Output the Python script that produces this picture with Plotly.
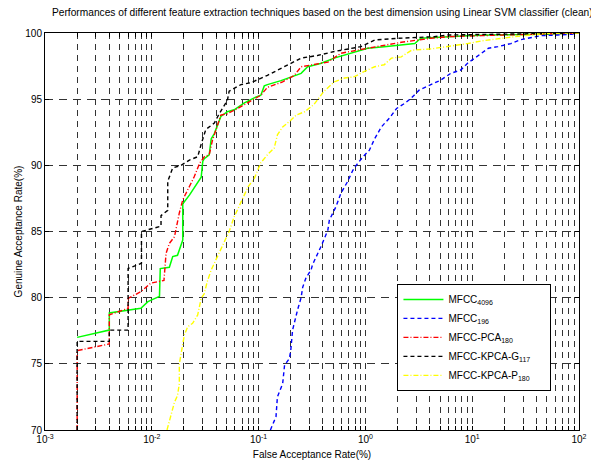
import plotly.graph_objects as go

# ---- data ----
far_mfcc4096 = [0.002, 0.004, 0.004, 0.0079, 0.0092, 0.0118, 0.012, 0.0146, 0.0157, 0.0174, 0.0181, 0.0195, 0.0195,
                0.0225, 0.029, 0.030, 0.031, 0.0345, 0.036, 0.0385, 0.0443, 0.051, 0.059, 0.073, 0.091, 0.105, 0.113,
                0.121, 0.162, 0.216, 0.25, 0.288, 0.38, 0.51, 0.73, 1.05, 1.5, 2.17, 2.9, 3.3, 5.9, 9.0, 15, 44, 100]
gar_mfcc4096 = [77.0, 77.55, 78.85, 79.2, 79.7, 80.1, 82.2, 82.3, 83.1, 83.2, 83.6, 84.35, 87.1,
                87.75, 89.1, 90.3, 90.5, 90.8, 92.0, 92.4, 93.7, 94.05, 94.2, 94.7, 95.1, 95.3, 96.0,
                96.1, 96.4, 96.8, 96.95, 97.45, 97.7, 98.1, 98.47, 98.85, 98.97, 99.1, 99.2, 99.6, 99.72, 99.8, 99.85, 99.9, 100]

far_mfcc196 = [0.129, 0.1455, 0.150, 0.168, 0.175, 0.194, 0.2, 0.208, 0.232, 0.25, 0.259, 0.278, 0.31, 0.32, 0.383,
               0.445, 0.46, 0.53, 0.59, 0.68, 0.76, 0.82, 0.95, 1.09, 1.22, 1.41, 1.69, 1.96, 2.35, 2.7, 3.2, 4.13,
               5.1, 6.3, 7.8, 9.0, 11.3, 14.2, 17.4, 23.0, 28.6, 35.5, 44, 63, 85, 100]
gar_mfcc196 = [70.0, 71.0, 72.5, 73.5, 74.9, 75.4, 76.0, 77.55, 79.1, 80.0, 80.8, 81.5, 82.1, 82.5, 83.85,
               85.1, 85.87, 86.87, 87.9, 88.76, 89.6, 90.0, 90.65, 91.15, 92.0, 92.9, 93.6, 94.3, 94.7, 95.1, 95.7, 96.1,
               96.45, 96.95, 97.2, 97.7, 98.3, 98.85, 98.97, 99.2, 99.5, 99.65, 99.8, 99.85, 99.9, 100]

far_pca180 = [0.002, 0.002, 0.004, 0.004, 0.006, 0.006, 0.0079, 0.0098, 0.013, 0.0136, 0.0146, 0.0163, 0.0181, 0.0195,
              0.0225, 0.025, 0.028, 0.031, 0.0345, 0.037, 0.040, 0.0443, 0.051, 0.064, 0.082, 0.105, 0.121, 0.168,
              0.216, 0.25, 0.445, 0.59, 1.05, 1.6, 2.17, 4.1, 5.9, 12, 33, 100]
gar_pca180 = [70.0, 76.0, 76.5, 78.7, 79.2, 79.95, 80.45, 81.1, 81.3, 83.35, 84.1, 84.6, 86.4, 87.4,
              88.4, 89.15, 90.15, 90.65, 90.8, 91.9, 92.7, 93.8, 93.9, 94.3, 94.8, 95.3, 95.9, 96.3,
              96.8, 97.45, 97.8, 98.47, 98.85, 99.1, 99.3, 99.6, 99.72, 99.8, 99.9, 100]

far_kpcag117 = [0.002, 0.002, 0.004, 0.004, 0.006, 0.006, 0.008, 0.008, 0.0122, 0.0122, 0.0141, 0.0141, 0.0157,
                0.0188, 0.0225, 0.0269, 0.029, 0.032, 0.0385, 0.0428, 0.051, 0.053, 0.0683, 0.085, 0.121, 0.175,
                0.25, 0.356, 0.51, 0.91, 1.22, 2.0, 4.4, 5.9, 12, 100]
gar_kpcag117 = [70.0, 76.7, 76.7, 77.55, 77.55, 82.2, 82.6, 85.0, 85.4, 86.2, 86.6, 88.8, 89.8,
                90.0, 90.4, 90.65, 91.6, 92.7, 93.2, 93.9, 94.9, 95.6, 96.1, 96.25, 96.8, 97.45,
                98.1, 98.3, 98.6, 98.97, 99.47, 99.6, 99.72, 99.85, 99.9, 100]

far_kpcap180 = [0.01388, 0.0157, 0.0163, 0.0174, 0.0181, 0.0181, 0.0188, 0.0202, 0.0217, 0.0241, 0.0269, 0.029,
                0.031, 0.033, 0.036, 0.0395, 0.053, 0.059, 0.070, 0.080, 0.091, 0.105, 0.121, 0.14, 0.15, 0.168,
                0.2, 0.225, 0.27, 0.33, 0.41, 0.51, 0.64, 0.79, 0.98, 1.22, 1.5, 1.75, 2.17, 2.7, 4.13, 5.9,
                9.0, 12.2, 18.6, 24.8, 35.5, 50, 100]
gar_kpcap180 = [70.0, 71.5, 72.1, 72.6, 73.5, 75.0, 75.8, 77.2, 77.8, 78.06, 78.7, 79.95,
                80.3, 81.2, 82.1, 82.8, 85.0, 86.1, 87.4, 88.4, 89.0, 90.2, 90.8, 91.3, 92.3, 92.9,
                93.4, 93.8, 94.05, 94.6, 95.6, 96.3, 96.6, 96.7, 97.1, 97.45, 97.6, 98.1, 98.2, 98.7, 98.8, 98.97,
                99.2, 99.4, 99.6, 99.72, 99.85, 99.98, 100]

series_names = ["MFCC<sub>4096</sub>", "MFCC<sub>196</sub>", "MFCC-PCA<sub>180</sub>",
                "MFCC-KPCA-G<sub>117</sub>", "MFCC-KPCA-P<sub>180</sub>"]

x_tick_exponents = [-3, -2, -1, 0, 1, 2]
y_tick_values = [70, 75, 80, 85, 90, 95, 100]

# ---- figure ----
series = [
    (far_mfcc4096, gar_mfcc4096, "#00ff00", "solid", 1.5),
    (far_mfcc196, gar_mfcc196, "#0000ff", "4px,3px", 1.4),
    (far_pca180, gar_pca180, "#ff0000", "5px,2px,1px,2px", 1.4),
    (far_kpcag117, gar_kpcag117, "#000000", "4px,3px", 1.4),
    (far_kpcap180, gar_kpcap180, "#ffff00", "5px,2px,1px,2px", 1.4),
]

pad = "<span style='color:rgba(0,0,0,0)'>xxx</span>"
fig = go.Figure()
for (xs, ys, color, dash, w), name in zip(series, series_names):
    fig.add_trace(go.Scatter(x=xs, y=ys, mode="lines", name=name + pad,
                             line=dict(color=color, dash=dash, width=w)))

# tick positions at every log-decade step (grid like MATLAB)
tickvals, ticktext = [], []
for e in x_tick_exponents:
    for k in range(1, 10):
        if e == x_tick_exponents[-1] and k > 1:
            break
        tickvals.append(k * 10.0 ** e)
        ticktext.append(f"10<sup>{e}</sup>" if k == 1 else "")

W, H = 591, 464
font = "Liberation Sans, Arial, sans-serif"
fig.update_layout(
    width=W, height=H,
    margin=dict(l=45, r=12, t=33, b=34),
    paper_bgcolor="white", plot_bgcolor="white",
    font=dict(family=font, size=10, color="#000000"),
    title=dict(text="Performances of different feature extraction techniques based on the best dimension using Linear SVM classifier (clean)",
               x=52 / W, xref="container", xanchor="left", y=1.0, yref="container", yanchor="top",
               pad=dict(t=9, b=0, l=0, r=0),
               font=dict(size=10.2, family=font), automargin=False),
    showlegend=True,
    legend=dict(x=0.66, y=0.368, xanchor="left", yanchor="top",
                bgcolor="white", bordercolor="black", borderwidth=1, itemwidth=40,
                font=dict(size=10, family=font), tracegroupgap=0),
)
fig.update_xaxes(type="log", range=[-3, 2], tickvals=tickvals, ticktext=ticktext,
                 showgrid=True, gridcolor="#333333", griddash="6px,5px", gridwidth=1,
                 ticks="inside", ticklen=4, tickcolor="black",
                 showline=True, linecolor="black", linewidth=1, mirror="ticks",
                 zeroline=False, automargin=False,
                 title=dict(text="False Acceptance Rate(%)", standoff=6, font=dict(size=10)))
fig.update_yaxes(range=[70, 100], tickvals=y_tick_values,
                 showgrid=True, gridcolor="#333333", griddash="8px,6px", gridwidth=1,
                 ticks="inside", ticklen=4, tickcolor="black",
                 showline=True, linecolor="black", linewidth=1, mirror="ticks",
                 zeroline=False, automargin=False,
                 title=dict(text="Genuine Acceptance Rate(%)", standoff=0, font=dict(size=10)))

# remove the default page margin so the figure fills the window exactly
fig.write_html("out.html", config={"displayModeBar": False},
               post_script="document.body.style.margin='0';document.body.style.overflow='hidden';")
